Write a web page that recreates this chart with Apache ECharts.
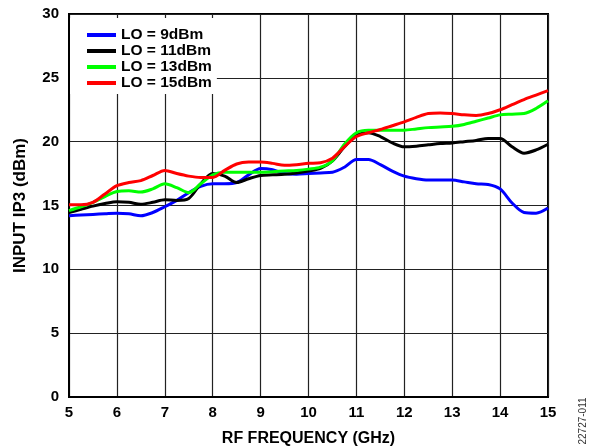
<!DOCTYPE html>
<html>
<head>
<meta charset="utf-8">
<script src="https://cdn.jsdelivr.net/npm/echarts@6/dist/echarts.min.js"></script>
<style>html,body{margin:0;padding:0;background:#fff}#c{width:590px;height:448px}</style>
</head>
<body>
<div id="c"></div>
<script>
var freq = [5,5.25,5.5,5.75,6,6.25,6.5,6.75,7,7.25,7.5,7.75,8,8.25,8.5,8.75,9,9.25,9.5,9.75,10,10.25,10.5,10.75,11,11.25,11.5,11.75,12,12.25,12.5,12.75,13,13.25,13.5,13.75,14,14.25,14.5,14.75,15];
var lo9 = [14.2,14.25,14.3,14.35,14.4,14.35,14.2,14.45,14.9,15.4,16.0,16.5,16.7,16.7,16.8,17.4,17.9,17.8,17.5,17.45,17.5,17.55,17.6,18.0,18.6,18.6,18.2,17.7,17.3,17.1,17.0,17.0,17.0,16.85,16.7,16.65,16.3,15.2,14.45,14.4,14.8];
var lo11 = [14.45,14.7,14.95,15.15,15.3,15.25,15.1,15.25,15.45,15.4,15.55,16.7,17.5,17.3,16.8,17.1,17.35,17.4,17.45,17.55,17.7,17.9,18.5,19.6,20.5,20.7,20.4,19.9,19.6,19.65,19.75,19.85,19.9,20.0,20.1,20.25,20.25,19.6,19.1,19.35,19.8];
var lo13 = [14.6,14.9,15.25,15.7,16.1,16.15,16.05,16.3,16.7,16.4,16.0,16.7,17.4,17.6,17.6,17.6,17.6,17.65,17.7,17.75,17.85,18.0,18.5,19.8,20.7,20.9,20.9,20.9,20.9,21.0,21.1,21.15,21.2,21.35,21.6,21.85,22.1,22.15,22.2,22.6,23.2];
var lo15 = [15.05,15.05,15.25,15.9,16.55,16.8,16.95,17.35,17.75,17.5,17.3,17.2,17.2,17.75,18.25,18.4,18.4,18.3,18.15,18.2,18.3,18.35,18.7,19.6,20.4,20.7,20.95,21.25,21.55,21.9,22.2,22.25,22.2,22.1,22.05,22.2,22.5,22.9,23.3,23.65,24.0];
var seriesNames = ['LO = 9dBm','LO = 11dBm','LO = 13dBm','LO = 15dBm'];
var seriesColors = ['#0000ff','#000000','#00ff00','#ff0000'];
var seriesValues = [lo9, lo11, lo13, lo15];
var xTitle = 'RF FREQUENCY (GHz)';
var yTitle = 'INPUT IP3 (dBm)';
var figId = '22727-011';

function pairs(v){ return freq.map(function(f,i){ return [f, v[i]]; }); }
var FONT = 'Liberation Sans, Arial, sans-serif';
var chart = echarts.init(document.getElementById('c'), null, {renderer:'canvas'});
chart.setOption({
  animation: false,
  backgroundColor: '#fff',
  grid: {left: 69, right: 42, top: 14, bottom: 51, show: true, borderColor: '#000', borderWidth: 2, backgroundColor: 'transparent', containLabel: false, outerBoundsMode: 'none'},
  legend: {
    orient: 'vertical', left: 70, top: 18,
    padding: [9, 5, 3, 17],
    backgroundColor: '#fff',
    itemWidth: 29, itemHeight: 4, itemGap: 0,
    icon: 'rect',
    textStyle: {fontFamily: FONT, fontWeight: 'bold', fontSize: 15.5, color: '#000', lineHeight: 16, padding: [0,0,0,0]},
    data: seriesNames
  },
  xAxis: {
    type: 'value', min: 5, max: 15, interval: 1,
    name: xTitle, nameLocation: 'middle', nameGap: 34,
    nameTextStyle: {fontFamily: FONT, fontWeight: 'bold', fontSize: 16, color: '#000'},
    axisLine: {show: true, onZero: false, lineStyle: {color: '#000', width: 2}},
    axisTick: {show: false},
    axisLabel: {fontFamily: FONT, fontWeight: 'bold', fontSize: 15, color: '#000', margin: 8},
    splitLine: {show: true, lineStyle: {color: '#222', width: 1.2}}
  },
  yAxis: {
    type: 'value', min: 0, max: 30, interval: 5,
    name: yTitle, nameLocation: 'middle', nameGap: 40,
    nameTextStyle: {fontFamily: FONT, fontWeight: 'bold', fontSize: 17, color: '#000'},
    axisLine: {show: true, lineStyle: {color: '#000', width: 2}},
    axisTick: {show: false},
    axisLabel: {fontFamily: FONT, fontWeight: 'bold', fontSize: 15, color: '#000', margin: 10},
    splitLine: {show: true, lineStyle: {color: '#222', width: 1.2}}
  },
  graphic: [{
    type: 'text', x: 583, y: 421, rotation: Math.PI/2,
    style: {text: figId, fontFamily: FONT, fontSize: 10, fill: '#333', align: 'center', verticalAlign: 'middle'}
  }],
  series: seriesNames.map(function(n, i){
    return {
      name: n, type: 'line', data: pairs(seriesValues[i]), smooth: 0.3,
      showSymbol: false, symbol: 'none', z: 2 + i,
      color: seriesColors[i],
      lineStyle: {color: seriesColors[i], width: 3}
    };
  })
});
</script>
</body>
</html>
